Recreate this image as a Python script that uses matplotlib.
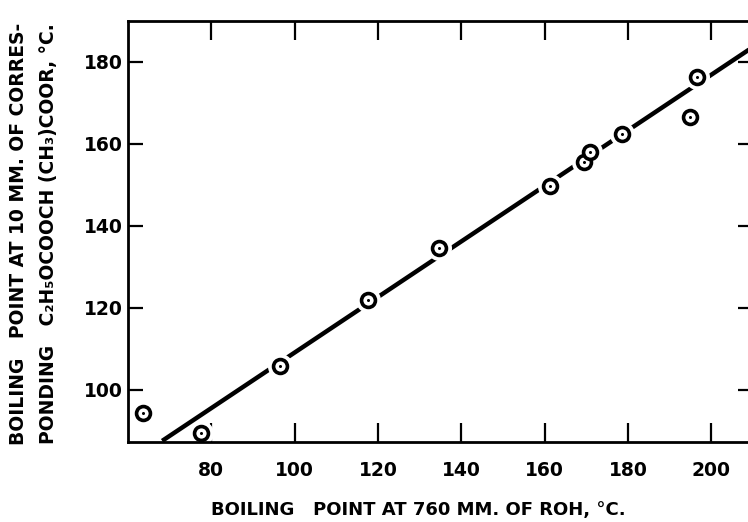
"""Boiling point at 10 mm of ethyl carbonate lactates vs boiling point of ROH."""
import matplotlib
matplotlib.use("Agg")
import matplotlib.pyplot as plt

# measured points (deg C)
bp_roh = [63.7, 77.4, 96.6, 117.5, 134.6, 161.3, 169.4, 170.9, 178.6, 194.9, 196.6]
bp_ester = [94.4, 89.5, 105.8, 121.9, 134.6, 149.7, 155.5, 158.0, 162.4, 166.5, 176.2]

# fitted straight line, end points
fit_x = [68.2, 210.0]
fit_y = [87.6, 183.6]

x_ticks = [80, 100, 120, 140, 160, 180, 200]
y_ticks = [100, 120, 140, 160, 180]

FONT = {"family": "DejaVu Sans", "weight": "bold"}

fig = plt.figure(figsize=(7.48, 5.22), dpi=100)
ax = fig.add_axes([128 / 748, 1 - 441.7 / 522, 625 / 748, 421 / 522])

ax.plot(fit_x, fit_y, "-", color="black", lw=3.2, solid_capstyle="butt", zorder=2)
# white halo breaks the line around each circle, like the drawn original
ax.plot(bp_roh, bp_ester, "o", ms=17, mfc="white", mec="white", zorder=2.2)
ax.plot(bp_roh, bp_ester, "o", ms=10, mfc="white", mec="black", mew=2.6, zorder=4)
ax.plot(bp_roh, bp_ester, "o", ms=2.2, mfc="black", mec="black", mew=0, zorder=5)

ax.set_xlim(60, 210)
ax.set_ylim(87.4, 190)
ax.set_xticks(x_ticks)
ax.set_yticks(y_ticks)
for s in ax.spines.values():
    s.set_linewidth(2.0)

ax.tick_params(axis="x", direction="in", length=14, width=1.6, top=True,
               pad=14, labelsize=13.5)
ax.tick_params(axis="y", direction="in", length=11, width=1.6, right=True,
               pad=3.5, labelsize=13.5)
for lab in ax.get_xticklabels() + ax.get_yticklabels():
    lab.set_fontweight("bold")

fig.text(418 / 748, 1 - 510 / 522, "BOILING   POINT AT 760 MM. OF ROH, °C.",
         ha="center", va="center", fontsize=13, **FONT)
fig.text(18.5 / 748, 1 - 234 / 522, "BOILING   POINT AT 10 MM. OF CORRES-",
         rotation=90, ha="center", va="center", fontsize=13.5, **FONT)
fig.text(48.5 / 748, 1 - 234 / 522, "PONDING   C₂H₅OCOOCH (CH₃)COOR, °C.",
         rotation=90, ha="center", va="center", fontsize=13.5, **FONT)

fig.savefig("out.png", dpi=100)
